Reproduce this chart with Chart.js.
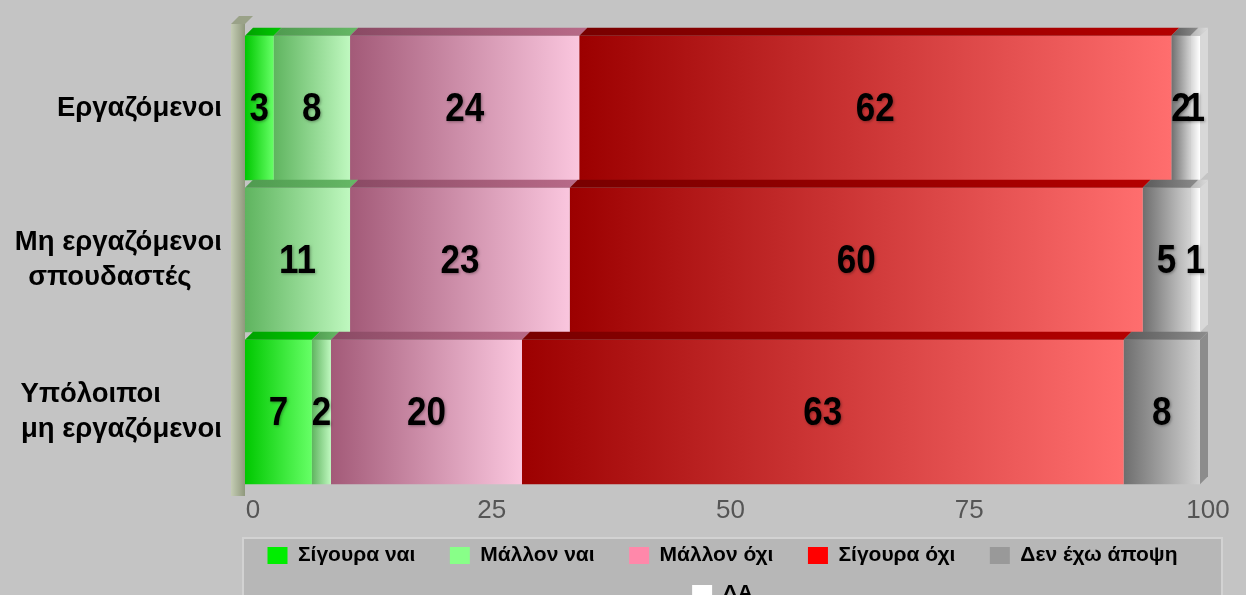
<!DOCTYPE html>
<html>
<head>
<meta charset="utf-8">
<script src="https://cdn.jsdelivr.net/npm/chart.js@4.4.0/dist/chart.umd.min.js"></script>
<style>
  html, body { margin: 0; padding: 0; background: #c4c4c4; }
</style>
</head>
<body>
<canvas id="graph" width="1246" height="595"></canvas>
<script>
// categories (trailing spaces keep the lines of a label left-aligned like the original)
const categories = [
    'Εργαζόμενοι',
    ['Μη εργαζόμενοι', ' σπουδαστές    '],
    ['Υπόλοιποι        ', 'μη εργαζόμενοι']
];
const seriesNames = ['Σίγουρα ναι', 'Μάλλον ναι', 'Μάλλον όχι', 'Σίγουρα όχι', 'Δεν έχω άποψη', 'ΔΑ'];

// values in % per category
const sigouraNai = [3, 0, 7];
const mallonNai = [8, 11, 2];
const mallonOxi = [24, 23, 20];
const sigouraOxi = [62, 60, 63];
const denExoApopsi = [2, 5, 8];
const da = [1, 1, 0];

const xTicks = [0, 25, 50, 75, 100];

// colours
const legendColors = ['#00ee00', '#88ff88', '#ff88aa', '#ff0000', '#999999', '#ffffff'];
const frontColors = [
    ['#00c800', '#66ff66'],
    ['#5fb45f', '#bff8bf'],
    ['#a35a78', '#fac6de'],
    ['#9c0000', '#ff6e6e'],
    ['#6e6e6e', '#d2d2d2'],
    ['#d4d4d4', '#ffffff']
];
const topColors = [
    ['#00a000', '#00c800'],
    ['#4f9a4f', '#66b866'],
    ['#8a4a64', '#b86a88'],
    ['#780000', '#b40000'],
    ['#5a5a5a', '#8c8c8c'],
    ['#b4b4b4', '#dcdcdc']
];
const sideColors = ['#00a000', '#6aa86a', '#c0809a', '#c04040', '#8c8c8c', '#d8d8d8'];

const depth = 8;
const allSeries = [sigouraNai, mallonNai, mallonOxi, sigouraOxi, denExoApopsi, da];

function gradientFill(stops) {
    return function (c) {
        const chart = c.chart;
        const x = chart.scales.x;
        if (c.type !== 'data' || !x || !chart.chartArea) return stops[1];
        let start = 0;
        for (let d = 0; d < c.datasetIndex; d++) start += chart.data.datasets[d].data[c.dataIndex];
        const x0 = x.getPixelForValue(start);
        const x1 = x.getPixelForValue(start + c.raw);
        if (x1 - x0 < 1) return stops[1];
        const g = chart.ctx.createLinearGradient(x0, 0, x1, 0);
        g.addColorStop(0, stops[0]);
        g.addColorStop(1, stops[1]);
        return g;
    };
}

const datasets = seriesNames.map((name, i) => ({
    label: name,
    data: allSeries[i],
    backgroundColor: gradientFill(frontColors[i]),
    borderWidth: 0,
    barPercentage: 0.95,
    categoryPercentage: 1
}));

// 3D look, legend panel and value labels
const threeD = {
    id: 'threeD',
    beforeDraw(chart) {
        const { ctx, chartArea, legend } = chart;
        ctx.save();
        ctx.fillStyle = '#c4c4c4';
        ctx.fillRect(0, 0, chart.width, chart.height);
        // legend panel
        const px = chartArea.left - 2, py = legend.top + 10;
        const pw = chartArea.right + 22 - px;
        ctx.fillStyle = '#b7b7b7';
        ctx.fillRect(px, py, pw, chart.height - py + 5);
        ctx.strokeStyle = '#d2d2d2';
        ctx.lineWidth = 2;
        ctx.strokeRect(px, py, pw, chart.height - py + 5);
        ctx.restore();
    },
    beforeDatasetsDraw(chart) {
        const { ctx, chartArea } = chart;
        const l = chartArea.left;
        const t = chartArea.top - 8, b = chartArea.bottom + 8;
        ctx.save();
        const g = ctx.createLinearGradient(l - 14, 0, l, 0);
        g.addColorStop(0, '#c4ccb4');
        g.addColorStop(1, '#8f987c');
        ctx.fillStyle = g;
        ctx.fillRect(l - 14, t, 14, b - t);
        ctx.fillStyle = '#9aa288';
        ctx.beginPath();
        ctx.moveTo(l - 14, t);
        ctx.lineTo(l - 14 + depth, t - depth);
        ctx.lineTo(l + depth, t - depth);
        ctx.lineTo(l, t);
        ctx.closePath();
        ctx.fill();
        ctx.restore();
    },
    afterDatasetsDraw(chart) {
        const ctx = chart.ctx;
        const n = chart.data.labels.length;
        ctx.save();
        const lastIdx = [];
        for (let j = 0; j < n; j++) {
            lastIdx[j] = -1;
            chart.data.datasets.forEach((ds, i) => { if (ds.data[j] > 0) lastIdx[j] = i; });
        }
        chart.data.datasets.forEach((ds, i) => {
            const meta = chart.getDatasetMeta(i);
            meta.data.forEach((el, j) => {
                if (!(ds.data[j] > 0)) return;
                const p = el.getProps(['x', 'base', 'y', 'height'], true);
                const x0 = Math.min(p.x, p.base), x1 = Math.max(p.x, p.base);
                const top = p.y - p.height / 2, bottom = p.y + p.height / 2;
                const g = ctx.createLinearGradient(x0, 0, x1 + depth, 0);
                g.addColorStop(0, topColors[i][0]);
                g.addColorStop(1, topColors[i][1]);
                ctx.fillStyle = g;
                ctx.beginPath();
                ctx.moveTo(x0, top);
                ctx.lineTo(x0 + depth, top - depth);
                ctx.lineTo(x1 + depth, top - depth);
                ctx.lineTo(x1, top);
                ctx.closePath();
                ctx.fill();
                if (lastIdx[j] === i) {
                    ctx.fillStyle = sideColors[i];
                    ctx.beginPath();
                    ctx.moveTo(x1, top);
                    ctx.lineTo(x1 + depth, top - depth);
                    ctx.lineTo(x1 + depth, bottom - depth);
                    ctx.lineTo(x1, bottom);
                    ctx.closePath();
                    ctx.fill();
                }
            });
        });
        // value labels (slightly tall, like the original)
        ctx.font = 'bold 35px "Liberation Sans", Arial, sans-serif';
        ctx.textAlign = 'center';
        ctx.textBaseline = 'middle';
        ctx.fillStyle = '#000';
        ctx.shadowColor = 'rgba(0,0,0,0.35)';
        ctx.shadowOffsetX = 1;
        ctx.shadowOffsetY = 1;
        ctx.shadowBlur = 3;
        chart.data.datasets.forEach((ds, i) => {
            chart.getDatasetMeta(i).data.forEach((el, j) => {
                if (!(ds.data[j] > 0)) return;
                const p = el.getProps(['x', 'base', 'y'], true);
                ctx.save();
                ctx.translate((p.x + p.base) / 2, p.y + 2);
                ctx.scale(1, 1.15);
                ctx.fillText(String(ds.data[j]), 0, 0);
                ctx.restore();
            });
        });
        ctx.restore();
    }
};

Chart.defaults.font.family = '"Liberation Sans", Arial, sans-serif';

var ctx = document.getElementById('graph').getContext('2d');
var myChart = new Chart(ctx, {
    type: 'bar',
    data: { labels: categories, datasets: datasets },
    options: {
        indexAxis: 'y',
        responsive: false,
        devicePixelRatio: 1,
        animation: false,
        layout: { padding: { top: 32, right: 46, bottom: -19, left: 0 } },
        scales: {
            x: {
                stacked: true,
                min: 0,
                max: 100,
                afterBuildTicks: (scale) => { scale.ticks = xTicks.map(v => ({ value: v })); },
                afterFit: (scale) => { scale.height = 40; },
                grid: { display: false, drawTicks: false },
                border: { display: false },
                ticks: {
                    color: '#555555',
                    font: { size: 26 },
                    padding: 7,
                    labelOffset: 8
                }
            },
            y: {
                stacked: true,
                afterFit: (scale) => {
                    scale.width = 245;
                    scale.paddingTop = 0;
                    scale.paddingBottom = 0;
                },
                grid: { display: false, drawTicks: false },
                border: { display: false },
                ticks: {
                    color: '#000000',
                    font: { size: 27.5, weight: 'bold', lineHeight: 1.25 },
                    padding: 23
                }
            }
        },
        plugins: {
            tooltip: { enabled: false },
            legend: {
                position: 'bottom',
                fullSize: false,
                labels: {
                    boxWidth: 20,
                    boxHeight: 17,
                    padding: 17,
                    color: '#000000',
                    font: { size: 21, weight: 'bold' },
                    generateLabels: (chart) => chart.data.datasets.map((ds, i) => ({
                        text: i < 4 ? ds.label + '\u00a0\u00a0\u00a0' : ds.label,
                        fillStyle: legendColors[i],
                        strokeStyle: legendColors[i],
                        lineWidth: 0,
                        hidden: false,
                        datasetIndex: i
                    }))
                }
            }
        }
    },
    plugins: [threeD]
});
</script>
</body>
</html>
